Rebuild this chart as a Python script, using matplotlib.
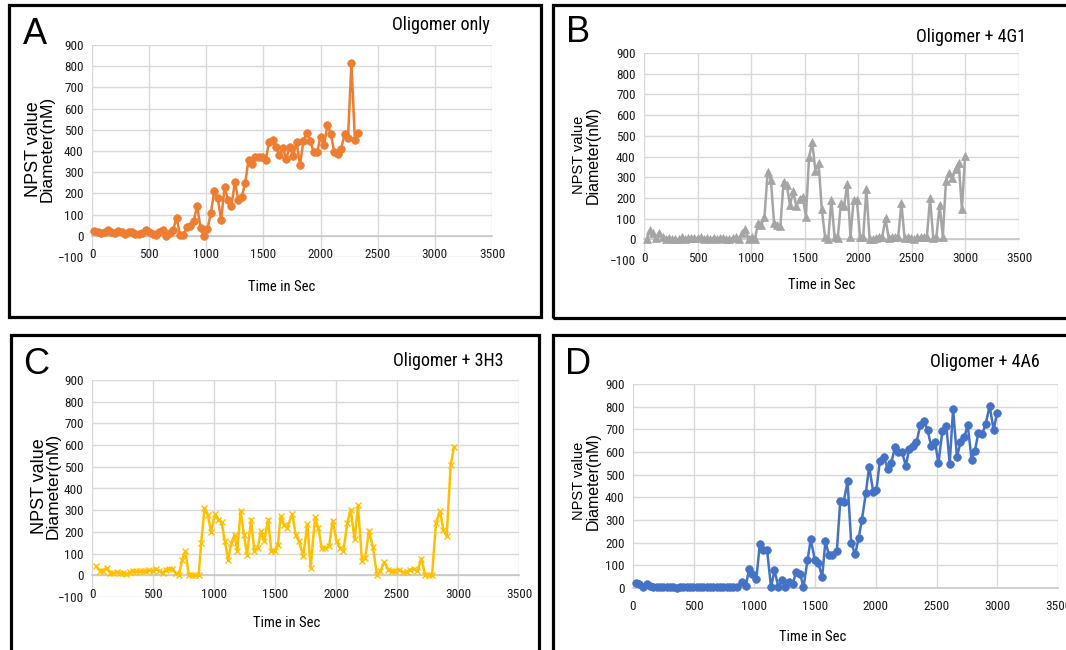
import numpy as np
import matplotlib
matplotlib.use("Agg")
import matplotlib.pyplot as plt
from matplotlib.patches import Rectangle
from matplotlib import font_manager as fm

## data (time in sec, NPST diameter in nM)
a_time = np.arange(20, 2340, 30)
a_vals = [22, 18, 12, 20, 28, 16, 12, 25, 16, 10, 16, 18, 10, 8, 12, 28, 16, 8, 2, 20,
          28, 0, 12, 28, 85, 5, 5, 43, 48, 70, 140, 38, 0, 30, 108, 211, 178, 74, 230, 170,
          139, 253, 170, 183, 249, 358, 340, 371, 374, 371, 358, 444, 452, 418, 383, 415, 363, 421, 377, 441,
          335, 449, 484, 449, 394, 394, 468, 426, 524, 480, 394, 387, 410, 480, 462, 817, 452, 484]

b_vals = [0, 45, 32, 5, 29, 13, 0,
          8, 0, 3, 0, 10, 0, 8, 5, 8, 5, 10, 0, 5, 0, 8, 3, 5, 8, 0, 3, 5, 10, 0,
          32, 48, 0, 13, 0, 81, 69, 110, 327, 287, 81, 69, 65, 279, 263, 166, 231, 161, 195, 206,
          110, 397, 468, 331, 368, 145, 13, 0,
          190, 10, 5, 174, 161, 268, 13, 190, 190, 13, 13, 242, 0, 0, 5, 10, 13, 102, 5, 13,
          13, 13, 174, 5, 10, 5, 0, 10, 10, 13, 13, 198, 5, 13, 166, 13, 284, 319, 295, 339,
          368, 145, 403]
b_time = np.linspace(25, 2997, len(b_vals))

c_time = [35, 62, 89, 121, 148, 175, 202, 228, 255, 282, 309, 336, 363, 390, 417, 444, 470, 497, 524, 551,
          578, 605, 632, 659, 685, 712, 739, 766, 793, 820, 847, 874, 895, 922, 949, 976, 1008, 1035, 1062, 1089,
          1116, 1142, 1169, 1191, 1218, 1245, 1271, 1304, 1331, 1358, 1384, 1411, 1444, 1470, 1497, 1524, 1546, 1573, 1599,
          1642, 1669, 1697, 1732, 1765, 1792, 1828, 1855, 1883, 1910, 1943, 1973, 2005, 2033, 2060, 2093, 2120, 2153, 2180, 2213,
          2240, 2270, 2303, 2336, 2363, 2396, 2429, 2456, 2484, 2516, 2546, 2579, 2607, 2639, 2667, 2699, 2732, 2760, 2787, 2820,
          2852, 2880, 2907, 2940, 2967]
c_vals = [42, 22, 22, 34, 11, 11, 14, 11, 11, 6, 14, 22, 18, 18, 18, 22, 25, 22, 31, 22,
          11, 26, 31, 31, 11, 0, 72, 111, 3, 0, 0, 0, 149, 311, 280, 200, 283, 257, 246, 157,
          72, 149, 188, 111, 298, 188, 95, 257, 111, 126, 203, 157, 257, 111, 111, 141, 272, 234, 218,
          283, 188, 157, 88, 237, 34, 268, 218, 126, 126, 134, 252, 157, 126, 111, 242, 303, 165, 323, 65,
          80, 206, 129, 0, 18, 62, 26, 18, 22, 26, 15, 15, 26, 31, 18, 77, 0, 3, 0, 242,
          295, 211, 180, 508, 591]

d_time = [25, 52, 80, 113, 140, 168, 195, 223, 250, 277, 305, 332, 360, 387, 415, 442, 470,
          497, 525, 552, 580, 607, 635, 662, 690, 717, 745, 772, 800, 827, 855,
          895, 929, 956, 984, 1016, 1044, 1071, 1104, 1137, 1165, 1198, 1225, 1253, 1288, 1316, 1343, 1376, 1404, 1437, 1464,
          1497, 1525, 1558, 1585, 1613, 1640,
          1679, 1707, 1734, 1767, 1797, 1830, 1858, 1885, 1918, 1945, 1978, 2005, 2033, 2066, 2099, 2126, 2159, 2186, 2214, 2247,
          2274, 2307, 2334, 2367, 2400, 2427, 2455, 2488, 2515, 2548, 2581, 2608, 2636, 2668, 2696, 2729, 2756, 2789, 2816, 2844,
          2877, 2904, 2937, 2970, 2997]
d_vals = [20, 17, 6, 17, 9, 3, 3, 3, 3, 6, 6, 3, 0, 3, 6, 3, 3,
          3, 6, 3, 3, 3, 6, 3, 3, 3, 6, 6, 3, 3, 3,
          28, 9, 83, 63, 40, 193, 167, 167, 3, 78, 3, 37, 3, 28, 17, 72, 63, 3, 122, 214,
          125, 111, 50, 208, 145, 145,
          165, 385, 378, 470, 197, 149, 220, 300, 421, 536, 425, 433, 561, 577, 524, 551, 624, 602, 602, 539,
          613, 627, 642, 720, 735, 695, 627, 642, 551, 691, 713, 548, 790, 577, 642, 665, 720, 565, 606, 685,
          680, 724, 802, 698, 770]

letters = ["A", "B", "C", "D"]
titles = ["Oligomer only", "Oligomer + 4G1", "Oligomer + 3H3", "Oligomer + 4A6"]

W, H = 1066, 650


## find a narrow font for ticks / titles (the original uses Arial Narrow)
def pick_narrow():
    fonts = fm.fontManager.ttflist
    prefs = ["Liberation Sans Narrow", "Arial Narrow", "Roboto Condensed", "Open Sans Condensed",
             "Noto Sans Condensed", "DejaVu Sans Condensed"]
    for want in prefs:
        for f in fonts:
            if f.name == want and f.weight in (400, "normal", "regular") and f.style == "normal":
                return f.fname
    for f in fonts:
        if f.stretch in ("condensed", "semi-condensed", "extra-condensed") and f.style == "normal" \
                and f.weight in (400, "normal", "regular") and ("Sans" in f.name or "Roboto" in f.name):
            return f.fname
    return None


narrow_path = pick_narrow()
sans = ["Liberation Sans", "Arial", "DejaVu Sans"]


def nf(size):
    if narrow_path:
        return fm.FontProperties(fname=narrow_path, size=size)
    return fm.FontProperties(family="DejaVu Sans", stretch="condensed", size=size)


fig = plt.figure(figsize=(W / 100, H / 100), dpi=100)
fig.patch.set_facecolor("white")


def fx(x):
    return x / W


def fy(y):
    return 1 - y / H


def box(l, t, r, b):
    fig.add_artist(Rectangle((fx(l), fy(b)), (r - l) / W, (b - t) / H, transform=fig.transFigure,
                             fill=False, lw=2.3, ec="black"))


# layout in pixels: axes (left, top, right, bottom), box, letter, title, labels
panels = [
    dict(ax=(92, 45, 492, 257), ymin=-100, box=(9, 5, 541, 317), letter=(35, 35), title=(441, 25),
         xlab=(282, 287), yl1=(33, 149, 13), yl2=(47, 149, 12.5),
         color="#ED7D31", marker="o", ms=5.5),
    dict(ax=(644, 53, 1019, 260), ymin=-100, box=(553, 5, 1080, 318), letter=(578, 32), title=(971, 37),
         xlab=(822, 285), yl1=(579, 155, 10.5), yl2=(593, 155, 11.5),
         color="#A5A5A5", marker="^", ms=5.5),
    dict(ax=(92, 380, 519, 597), ymin=-100, box=(11, 335, 539, 670), letter=(36, 364), title=(448, 361),
         xlab=(287, 623), yl1=(39, 486, 13), yl2=(53, 486, 12.5),
         color="#FFC000", marker="x", ms=5),
    dict(ax=(633, 384, 1058, 588), ymin=0, box=(553, 335, 1080, 670), letter=(578, 364), title=(985, 362),
         xlab=(813, 637), yl1=(579, 481, 10.5), yl2=(593, 481, 11.5),
         color="#4472C4", marker="o", ms=5.5),
]
series = [(a_time, a_vals), (b_time, b_vals), (c_time, c_vals), (d_time, d_vals)]

for p, (t, v), letter, title in zip(panels, series, letters, titles):
    l, tp, r, b = p["ax"]
    ax = fig.add_axes([fx(l), fy(b), (r - l) / W, (b - tp) / H])
    ax.plot(t, v, color=p["color"], lw=1.8, marker=p["marker"], ms=p["ms"],
            mew=1.0 if p["marker"] == "x" else 0.5, clip_on=False, zorder=3)
    ax.set_xlim(0, 3500)
    ax.set_ylim(p["ymin"], 900)
    ax.set_xticks(np.arange(0, 3501, 500))
    ax.set_yticks(np.arange(p["ymin"], 901, 100))
    ax.grid(True, color="#d9d9d9", lw=1.0, zorder=0)
    ax.set_axisbelow(True)
    for s in ["top", "right", "left"]:
        ax.spines[s].set_visible(False)
    ax.spines["bottom"].set_position(("data", 0))
    ax.spines["bottom"].set_color("#c8c8c8")
    ax.spines["bottom"].set_linewidth(1.2)
    ax.tick_params(axis="both", length=0, colors="#1a1a1a")
    ax.tick_params(axis="x", pad=9)
    ax.tick_params(axis="y", pad=6)
    for lab in ax.get_xticklabels() + ax.get_yticklabels():
        lab.set_fontproperties(nf(9.5))

    box(*p["box"])
    fig.text(fx(p["letter"][0]), fy(p["letter"][1]), letter, family=sans, fontsize=26,
             ha="center", va="center")
    fig.text(fx(p["title"][0]), fy(p["title"][1]), title, fontproperties=nf(13),
             ha="center", va="center")
    fig.text(fx(p["xlab"][0]), fy(p["xlab"][1]), "Time in Sec", fontproperties=nf(10.5),
             ha="center", va="center")
    x1, y1, s1 = p["yl1"]
    x2, y2, s2 = p["yl2"]
    fig.text(fx(x1), fy(y1), "NPST value", family=sans, fontsize=s1, rotation=90,
             ha="center", va="center")
    fig.text(fx(x2), fy(y2), "Diameter(nM)", family=sans, fontsize=s2, rotation=90,
             ha="center", va="center")

fig.savefig("out.png", dpi=100)
